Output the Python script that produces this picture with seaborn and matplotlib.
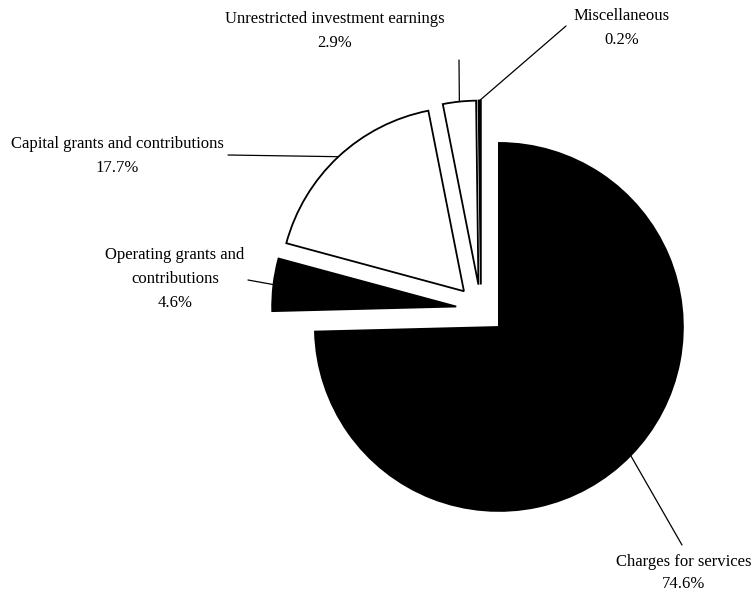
import math
import matplotlib
matplotlib.use("Agg")
import matplotlib.pyplot as plt
import seaborn as sns

# Revenue sources
categories = [
    "Charges for services",
    "Operating grants and\ncontributions",
    "Capital grants and contributions",
    "Unrestricted investment earnings",
    "Miscellaneous",
]
shares = [74.6, 4.6, 17.7, 2.9, 0.2]
pct_labels = ["74.6%", "4.6%", "17.7%", "2.9%", "0.2%"]
fills = ["black", "black", "white", "white", "black"]

# Label placement in pixels (x, y from top-left): text centre and leader start
label_xy = [(684, 573), (175, 279), (117, 156), (335, 31), (622, 28)]
leader_xy = [(682, 545), (248, 280), (228, 155), (459, 60), (566, 26)]
label_spacing = [1.48, 1.7, 1.74, 1.62, 1.62]

sns.set_theme(style="white")
plt.rcParams["font.family"] = ["Liberation Serif", "DejaVu Serif"]

W, H = 755, 598
SCALE = 184.0           # pixels per unit radius
CX, CY = 481.0, 309.5   # pie centre in pixels


def to_data(px, py):
    return (px - CX) / SCALE, (CY - py) / SCALE


fig = plt.figure(figsize=(W / 100, H / 100), dpi=100)
fig.patch.set_facecolor("white")
ax = fig.add_axes([0, 0, 1, 1])

wedges, _ = ax.pie(
    shares,
    colors=fills,
    startangle=90,
    counterclock=False,
    explode=[25 / SCALE] * len(shares),
    radius=1.0,
    center=(0, 0),
    wedgeprops=dict(edgecolor="black", linewidth=1.3, antialiased=True),
)

for w, cat, pct, lxy, sxy, ls in zip(wedges, categories, pct_labels,
                                     label_xy, leader_xy, label_spacing):
    mid = math.radians((w.theta1 + w.theta2) / 2)
    ax_x = w.center[0] + w.r * math.cos(mid)
    ax_y = w.center[1] + w.r * math.sin(mid)
    sx, sy = to_data(*sxy)
    ax.plot([sx, ax_x], [sy, ax_y], color="black", linewidth=0.9)
    tx, ty = to_data(*lxy)
    ax.text(tx, ty, f"{cat}\n{pct}", ha="center", va="center",
            multialignment="center", linespacing=ls, fontsize=12,
            color="black")

ax.set_xlim(-CX / SCALE, (W - CX) / SCALE)
ax.set_ylim((CY - H) / SCALE, CY / SCALE)
ax.set_aspect("equal", adjustable="box")
ax.axis("off")

fig.savefig("out.png", dpi=100, facecolor="white")
